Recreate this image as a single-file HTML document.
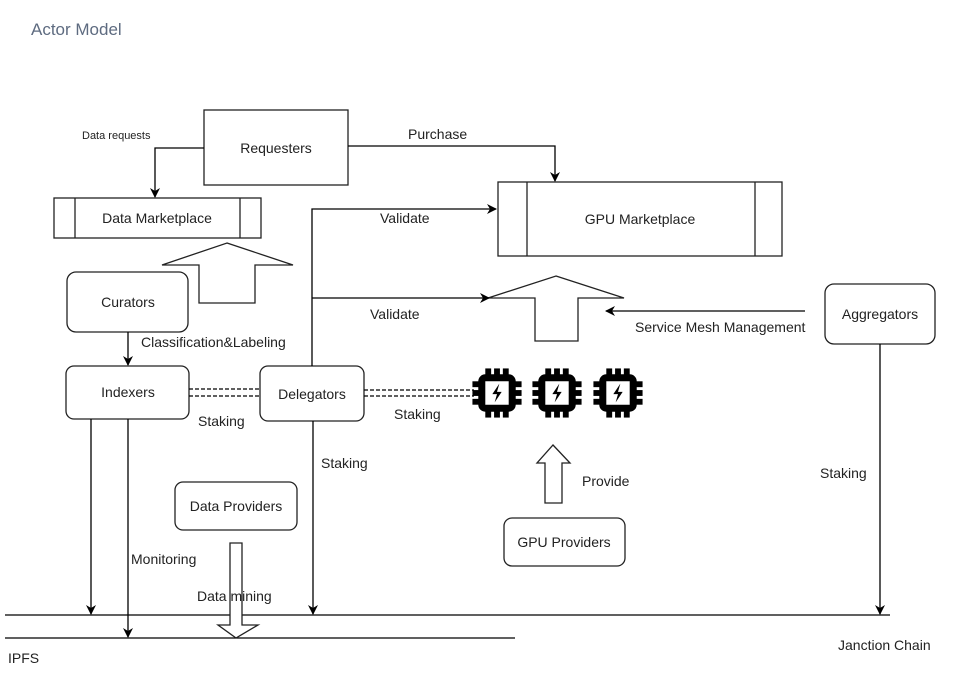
<!DOCTYPE html>
<html><head><meta charset="utf-8"><style>
html,body{margin:0;padding:0;background:#fff;}
svg{display:block;}
text{font-family:"Liberation Sans",Arial,sans-serif;fill:#222;}
</style></head><body>
<svg width="954" height="684" viewBox="0 0 954 684" xmlns="http://www.w3.org/2000/svg">
<defs>
<marker id="a" markerWidth="10" markerHeight="10" refX="9" refY="5" orient="auto" markerUnits="userSpaceOnUse">
<path d="M0,0 L10,5 L0,10 L3,5 Z" fill="#000"/></marker>
<g id="chip">
<rect x="-13" y="-13" width="26" height="26" rx="3" fill="none" stroke="#000" stroke-width="6"/>
<g fill="#000">
<rect x="-10" y="-21" width="5" height="8"/><rect x="-2.5" y="-21" width="5" height="8"/><rect x="5" y="-21" width="5" height="8"/>
<rect x="-10" y="13" width="5" height="8"/><rect x="-2.5" y="13" width="5" height="8"/><rect x="5" y="13" width="5" height="8"/>
<rect x="-21" y="-10" width="8" height="5"/><rect x="-21" y="-2.5" width="8" height="5"/><rect x="-21" y="5" width="8" height="5"/>
<rect x="13" y="-10" width="8" height="5"/><rect x="13" y="-2.5" width="8" height="5"/><rect x="13" y="5" width="8" height="5"/>
<path d="M2,-8 L-4,1 L0,1 L-2,8 L4,-1 L0,-1 Z"/>
</g></g>
</defs>
<text x="31" y="35" style="font-size:17px;fill:#5e6b80">Actor Model</text>
<g fill="#fff" stroke="#222" stroke-width="1.3">
<rect x="204" y="110" width="144" height="75"/>
<rect x="54" y="198" width="207" height="40"/>
<line x1="75" y1="198" x2="75" y2="238"/><line x1="240" y1="198" x2="240" y2="238"/>
<rect x="498" y="182" width="284" height="74"/>
<line x1="527" y1="182" x2="527" y2="256"/><line x1="755" y1="182" x2="755" y2="256"/>
<rect x="67" y="272" width="121" height="60" rx="9"/>
<rect x="66" y="366" width="123" height="53" rx="8"/>
<rect x="260" y="366" width="104" height="55" rx="8"/>
<rect x="175" y="482" width="122" height="48" rx="8"/>
<rect x="504" y="518" width="121" height="48" rx="8"/>
<rect x="825" y="284" width="110" height="60" rx="9"/>
<path d="M227,243 L293,265 L255,265 L255,303 L199,303 L199,265 L162,265 Z"/>
<path d="M556,276 L624,298 L578,298 L578,341 L535,341 L535,298 L488,298 Z"/>
<path d="M553,445 L570,463 L562,463 L562,503 L545,503 L545,463 L537,463 Z"/>
</g>
<g fill="none" stroke="#000" stroke-width="1.3">
<line x1="5" y1="615" x2="890" y2="615"/>
<line x1="5" y1="638" x2="515" y2="638"/>
<path d="M204,148 L155,148 L155,197" marker-end="url(#a)"/>
<path d="M348,146 L555,146 L555,181" marker-end="url(#a)"/>
<path d="M312,366 L312,209 L496,209" marker-end="url(#a)"/>
<path d="M312,298 L489,298" marker-end="url(#a)"/>
<path d="M805,311 L606,311" marker-end="url(#a)"/>
<path d="M128,332 L128,365" marker-end="url(#a)"/>
<path d="M91,419 L91,614" marker-end="url(#a)"/>
<path d="M128,419 L128,637" marker-end="url(#a)"/>
<path d="M313,421 L313,614" marker-end="url(#a)"/>
<path d="M880,344 L880,614" marker-end="url(#a)"/>
<g stroke-dasharray="4,2" stroke-width="1.2">
<line x1="189" y1="389" x2="260" y2="389"/><line x1="189" y1="396" x2="260" y2="396"/>
<line x1="364" y1="390" x2="474" y2="390"/><line x1="364" y1="396" x2="474" y2="396"/>
</g>
</g>
<path d="M230,543 L242,543 L242,625 L258,625 L236,638 L218,625 L230,625 Z" fill="#fff" stroke="#222" stroke-width="1.3"/>
<use href="#chip" transform="translate(497,393) scale(1.17)"/>
<use href="#chip" transform="translate(557,393) scale(1.17)"/>
<use href="#chip" transform="translate(618,393) scale(1.17)"/>
<g style="font-size:14px" text-anchor="middle">
<text x="276" y="153">Requesters</text>
<text x="157" y="223">Data Marketplace</text>
<text x="640" y="224">GPU Marketplace</text>
<text x="128" y="307">Curators</text>
<text x="128" y="397">Indexers</text>
<text x="312" y="399">Delegators</text>
<text x="236" y="511">Data Providers</text>
<text x="564" y="547">GPU Providers</text>
<text x="880" y="319">Aggregators</text>
</g>
<g style="font-size:14px">
<text x="408" y="139">Purchase</text>
<text x="380" y="223">Validate</text>
<text x="370" y="319">Validate</text>
<text x="635" y="332">Service Mesh Management</text>
<text x="141" y="347">Classification&amp;Labeling</text>
<text x="198" y="426">Staking</text>
<text x="394" y="419">Staking</text>
<text x="321" y="468">Staking</text>
<text x="820" y="478">Staking</text>
<text x="582" y="486">Provide</text>
<text x="131" y="564">Monitoring</text>
<text x="197" y="601">Data mining</text>
<text x="838" y="650">Janction Chain</text>
<text x="8" y="663">IPFS</text>
</g>
<text x="82" y="139" style="font-size:11px">Data requests</text>
</svg>
</body></html>
